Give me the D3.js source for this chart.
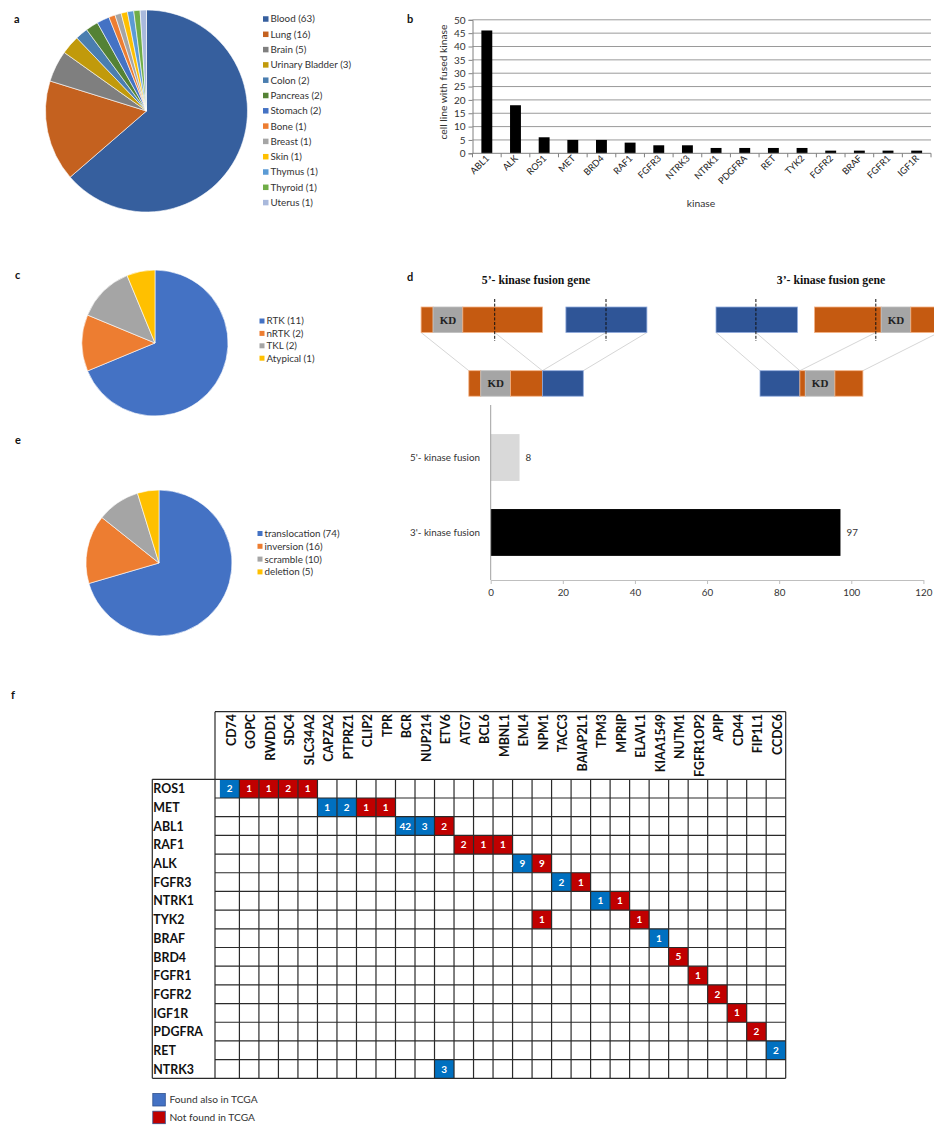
<!DOCTYPE html>
<html>
<head>
<meta charset="utf-8">
<script src="https://cdn.jsdelivr.net/npm/d3@7"></script>
<style>
  body { margin: 0; background: #fff; }
  svg { display: block; font-family: Lato, "Open Sans", sans-serif; }
</style>
</head>
<body>
<svg id="fig" width="934" height="1125"></svg>
<script>
// ---------------- data ----------------
// a: cell lines by tissue of origin
const tissues = ["Blood", "Lung", "Brain", "Urinary Bladder", "Colon", "Pancreas", "Stomach",
                 "Bone", "Breast", "Skin", "Thymus", "Thyroid", "Uterus"];
const tissueCounts = [63, 16, 5, 3, 2, 2, 2, 1, 1, 1, 1, 1, 1];
const tissueColors = ["#365f9e", "#c4611f", "#7f7f7f", "#c19a0b", "#4a7eb0", "#548235", "#4472c4",
                      "#ed7d31", "#a5a5a5", "#ffc000", "#5b9bd5", "#70ad47", "#a9b9dc"];

// b: cell lines carrying a fusion of each kinase
const kinases = ["ABL1", "ALK", "ROS1", "MET", "BRD4", "RAF1", "FGFR3", "NTRK3", "NTRK1", "PDGFRA",
                 "RET", "TYK2", "FGFR2", "BRAF", "FGFR1", "IGF1R"];
const kinaseCellLines = [46, 18, 6, 5, 5, 4, 3, 3, 2, 2, 2, 2, 1, 1, 1, 1];
const kinaseTicks = [0, 5, 10, 15, 20, 25, 30, 35, 40, 45, 50];

// c: kinase groups
const kinaseGroups = ["RTK", "nRTK", "TKL", "Atypical"];
const kinaseGroupCounts = [11, 2, 2, 1];
const groupColors = ["#4472c4", "#ed7d31", "#a5a5a5", "#ffc000"];

// d: 5' vs 3' kinase fusions
const fusionSides = ["5'- kinase fusion", "3'- kinase fusion"];
const fusionSideCounts = [8, 97];
const fusionTicks = [0, 20, 40, 60, 80, 100, 120];

// d: gene models for the schematic (segment lengths and breakpoints, schematic units)
const kinaseGene5 = { segs: [["k", 12], ["kd", 29.7], ["k", 79.7]], brk: 73.6 };
const partnerGene5 = { segs: [["p", 81]], brk: 40.1 };
const partnerGene3 = { segs: [["p", 81.4]], brk: 39.9 };
const kinaseGene3 = { segs: [["k", 66.7], ["kd", 29.6], ["k", 28]], brk: 61.3 };

// e: rearrangement type
const eventTypes = ["translocation", "inversion", "scramble", "deletion"];
const eventCounts = [74, 16, 10, 5];

// f: kinase x partner fusion table
const partnerGenes = ["CD74", "GOPC", "RWDD1", "SDC4", "SLC34A2", "CAPZA2", "PTPRZ1", "CLIP2", "TPR",
  "BCR", "NUP214", "ETV6", "ATG7", "BCL6", "MBNL1", "EML4", "NPM1", "TACC3", "BAIAP2L1", "TPM3",
  "MPRIP", "ELAVL1", "KIAA1549", "NUTM1", "FGFR1OP2", "APIP", "CD44", "FIP1L1", "CCDC6"];
const kinaseRows = ["ROS1", "MET", "ABL1", "RAF1", "ALK", "FGFR3", "NTRK1", "TYK2", "BRAF", "BRD4",
  "FGFR1", "FGFR2", "IGF1R", "PDGFRA", "RET", "NTRK3"];
// [kinase, partner, count, found also in TCGA]
const fusionCells = [
  ["ROS1", "CD74", 2, true], ["ROS1", "GOPC", 1, false], ["ROS1", "RWDD1", 1, false],
  ["ROS1", "SDC4", 2, false], ["ROS1", "SLC34A2", 1, false],
  ["MET", "CAPZA2", 1, true], ["MET", "PTPRZ1", 2, true], ["MET", "CLIP2", 1, false], ["MET", "TPR", 1, false],
  ["ABL1", "BCR", 42, true], ["ABL1", "NUP214", 3, true], ["ABL1", "ETV6", 2, false],
  ["RAF1", "ATG7", 2, false], ["RAF1", "BCL6", 1, false], ["RAF1", "MBNL1", 1, false],
  ["ALK", "EML4", 9, true], ["ALK", "NPM1", 9, false],
  ["FGFR3", "TACC3", 2, true], ["FGFR3", "BAIAP2L1", 1, false],
  ["NTRK1", "TPM3", 1, true], ["NTRK1", "MPRIP", 1, false],
  ["TYK2", "NPM1", 1, false], ["TYK2", "ELAVL1", 1, false],
  ["BRAF", "KIAA1549", 1, true], ["BRD4", "NUTM1", 5, false], ["FGFR1", "FGFR1OP2", 1, false],
  ["FGFR2", "APIP", 2, false], ["IGF1R", "CD44", 1, false], ["PDGFRA", "FIP1L1", 2, false],
  ["RET", "CCDC6", 2, true], ["NTRK3", "ETV6", 3, true]
];
const tcgaLegend = ["Found also in TCGA", "Not found in TCGA"];

// ---------------- drawing ----------------
const svg = d3.select("#fig");

function panelLabel(t, x, y) {
  svg.append("text").attr("x", x).attr("y", y).attr("font-size", 11).attr("font-weight", 700)
    .attr("fill", "#111").text(t);
}

function pie(values, labels, colors, cx, cy, r, legX, legY, legStep, sq) {
  const arcs = d3.pie().sort(null)(values);
  const arc = d3.arc().innerRadius(0).outerRadius(r);
  const g = svg.append("g").attr("transform", `translate(${cx},${cy})`);
  g.selectAll("path").data(arcs).join("path")
    .attr("d", arc).attr("fill", (d, i) => colors[i])
    .attr("stroke", "#fff").attr("stroke-width", 0.6);
  const lg = svg.append("g");
  labels.forEach((l, i) => {
    const y = legY + i * legStep;
    lg.append("rect").attr("x", legX).attr("y", y - sq / 2).attr("width", sq).attr("height", sq)
      .attr("fill", colors[i]);
    lg.append("text").attr("x", legX + sq + 2).attr("y", y).attr("dy", "0.35em")
      .attr("font-size", 9.8).attr("fill", "#333").text(`${l} (${values[i]})`);
  });
}

// ---- a ----
panelLabel("a", 14, 23);
pie(tissueCounts, tissues, tissueColors, 146.5, 111, 101, 263, 19, 15.3, 5.5);

// ---- b ----
panelLabel("b", 407, 23);
{
  const x = d3.scaleBand().domain(kinases).range([472.5, 931]).paddingInner(0.62).paddingOuter(0.31);
  const y = d3.scaleLinear().domain([0, 50]).range([153.3, 19.8]);
  const g = svg.append("g");
  g.selectAll("line.grid").data(kinaseTicks.filter(t => t > 0)).join("line")
    .attr("x1", 472.5).attr("x2", 931).attr("y1", d => y(d)).attr("y2", d => y(d))
    .attr("stroke", "#9a9a9a").attr("stroke-width", 1);
  g.selectAll("rect").data(kinases).join("rect")
    .attr("x", d => x(d)).attr("width", x.bandwidth())
    .attr("y", (d, i) => y(kinaseCellLines[i]))
    .attr("height", (d, i) => y(0) - y(kinaseCellLines[i]))
    .attr("fill", "#000");
  const ya = g.append("g").attr("transform", "translate(472.5,0)")
    .call(d3.axisLeft(y).tickValues(kinaseTicks).tickSize(4).tickPadding(3));
  ya.select(".domain").attr("stroke", "#808080");
  ya.selectAll(".tick line").attr("stroke", "#808080");
  ya.selectAll("text").attr("font-size", 10).attr("font-family", "Lato").attr("fill", "#333");
  // category axis with ticks between bands
  g.append("line").attr("x1", 472.5).attr("x2", 931).attr("y1", y(0)).attr("y2", y(0))
    .attr("stroke", "#808080");
  const step = x.step();
  d3.range(kinases.length + 1).forEach(i => {
    const xx = 472.5 + i * step;
    g.append("line").attr("x1", xx).attr("x2", xx).attr("y1", y(0)).attr("y2", y(0) + 4)
      .attr("stroke", "#808080");
  });
  g.selectAll("text.klab").data(kinases).join("text").attr("class", "klab")
    .attr("transform", d => `translate(${x(d) + x.bandwidth() / 2 + 3},${159}) rotate(-45)`)
    .attr("text-anchor", "end").attr("font-size", 9.2).attr("fill", "#222").text(d => d);
  svg.append("text").attr("transform", "translate(447,82) rotate(-90)").attr("text-anchor", "middle")
    .attr("font-size", 10.3).attr("fill", "#333").text("cell line with fused kinase");
  svg.append("text").attr("x", 701).attr("y", 207).attr("text-anchor", "middle")
    .attr("font-size", 10.3).attr("fill", "#333").text("kinase");
}

// ---- c ----
panelLabel("c", 15, 279);
pie(kinaseGroupCounts, kinaseGroups, groupColors, 155, 343, 73, 259.5, 321, 12.4, 5);

// ---- e ----
panelLabel("e", 15, 444);
pie(eventCounts, eventTypes, groupColors, 159, 563, 73, 257.5, 533.5, 12.8, 5);

// ---- d: schematic ----
panelLabel("d", 407, 281);
{
  const fill = { k: "#c55a11", kd: "#a5a5a5", p: "#2f5597" };
  const edge = { k: "#f4b183", kd: "#bfbfbf", p: "#8faadc" };
  const topY = 307, botY = 370.7, h = 25.5;
  const u = d3.scaleLinear().domain([0, 1]).range([0, 1]); // schematic units -> px
  const len = gene => d3.sum(gene.segs, s => s[1]);
  // cut a gene model to the [a,b] interval
  function cut(gene, a, b) {
    const out = []; let pos = 0;
    gene.segs.forEach(([t, l]) => {
      const s = Math.max(pos, a), e = Math.min(pos + l, b);
      if (e > s) out.push([t, e - s]);
      pos += l;
    });
    return out;
  }
  const g = svg.append("g");
  const links = g.append("g"), bars = g.append("g"), marks = g.append("g");
  function drawSegs(segs, x0, y) {
    let x = x0;
    segs.forEach(([t, l]) => {
      bars.append("rect").attr("x", x).attr("y", y).attr("width", u(l)).attr("height", h)
        .attr("fill", fill[t]).attr("stroke", edge[t]).attr("stroke-width", 0.8);
      if (t === "kd") {
        bars.append("text").attr("x", x + u(l) / 2).attr("y", y + h / 2).attr("dy", "0.35em")
          .attr("text-anchor", "middle").attr("font-family", "Liberation Serif, serif")
          .attr("font-weight", 700).attr("font-size", 11).attr("fill", "#222").text("KD");
      }
      x += u(l);
    });
    return x;
  }
  function breakLine(x) {
    marks.append("line").attr("x1", x).attr("x2", x).attr("y1", 299).attr("y2", 341)
      .attr("stroke", "#111").attr("stroke-width", 1).attr("stroke-dasharray", "3,1.6");
  }
  function link(x1, x2) {
    links.append("line").attr("x1", x1).attr("y1", topY + h).attr("x2", x2).attr("y2", botY)
      .attr("stroke", "#d6d6d6").attr("stroke-width", 1);
  }
  function fusion(head, headX, tail, tailX, fusedX) {
    drawSegs(head.segs, headX, topY);
    drawSegs(tail.segs, tailX, topY);
    breakLine(headX + u(head.brk));
    breakLine(tailX + u(tail.brk));
    const j = drawSegs(cut(head, 0, head.brk), fusedX, botY);
    const end = drawSegs(cut(tail, tail.brk, len(tail)), j, botY);
    link(headX, fusedX);
    link(headX + u(head.brk), j);
    link(tailX + u(tail.brk), j);
    link(tailX + u(len(tail)), end);
  }
  fusion(kinaseGene5, 421.1, partnerGene5, 565.9, 468.8);
  fusion(partnerGene3, 716, kinaseGene3, 814.5, 760);

  [["5\u2019- kinase fusion gene", 536], ["3\u2019- kinase fusion gene", 831]].forEach(([t, cx]) => {
    svg.append("text").attr("x", cx).attr("y", 284).attr("text-anchor", "middle")
      .attr("font-family", "Liberation Serif, serif").attr("font-weight", 700)
      .attr("font-size", 11.8).attr("fill", "#111").text(t);
  });
}

// ---- d: bar chart ----
{
  const x = d3.scaleLinear().domain([0, 120]).range([490.7, 923.4]);
  const y = d3.scaleBand().domain(fusionSides).range([406, 584]).padding(0.375);
  const g = svg.append("g");
  g.selectAll("rect").data(fusionSides).join("rect")
    .attr("x", x(0)).attr("y", d => y(d)).attr("height", y.bandwidth())
    .attr("width", (d, i) => x(fusionSideCounts[i]) - x(0))
    .attr("fill", (d, i) => i === 0 ? "#d9d9d9" : "#000");
  g.selectAll("text.val").data(fusionSides).join("text").attr("class", "val")
    .attr("x", (d, i) => x(fusionSideCounts[i]) + 6).attr("y", d => y(d) + y.bandwidth() / 2)
    .attr("dy", "0.35em").attr("font-size", 9.8).attr("fill", "#333")
    .text((d, i) => fusionSideCounts[i]);
  g.selectAll("text.cat").data(fusionSides).join("text").attr("class", "cat")
    .attr("x", 480).attr("y", d => y(d) + y.bandwidth() / 2).attr("dy", "0.35em")
    .attr("text-anchor", "end").attr("font-size", 9.8).attr("fill", "#333").text(d => d);
  g.append("line").attr("x1", x(0)).attr("x2", x(0)).attr("y1", 405).attr("y2", 580)
    .attr("stroke", "#a0a0a0");
  const xa = g.append("g").attr("transform", "translate(0,580)")
    .call(d3.axisBottom(x).tickValues(fusionTicks).tickSize(4).tickPadding(5).tickSizeOuter(0));
  xa.select(".domain").attr("stroke", "#bfbfbf");
  xa.selectAll(".tick line").attr("stroke", "#bfbfbf");
  xa.selectAll("text").attr("font-size", 9.8).attr("font-family", "Lato").attr("fill", "#333");
}

// ---- f: fusion table ----
panelLabel("f", 11, 699);
{
  const gridLeft = 215, gridRight = 785.7, headTop = 711.7, rowTop = 779.3, bottom = 1078.3, labelLeft = 152.3;
  const x = d3.scaleBand().domain(partnerGenes).range([219.9, gridRight]);
  const y = d3.scaleBand().domain(kinaseRows).range([rowTop, bottom]);
  const x0 = c => Math.max(gridLeft, x(c));
  const x1 = c => x(c) + x.bandwidth();
  const g = svg.append("g");
  g.selectAll("rect.cell").data(fusionCells).join("rect").attr("class", "cell")
    .attr("x", d => x0(d[1])).attr("y", d => y(d[0]))
    .attr("width", d => x1(d[1]) - x0(d[1])).attr("height", y.bandwidth())
    .attr("fill", d => d[3] ? "#0070c0" : "#c00000");
  g.selectAll("text.n").data(fusionCells).join("text").attr("class", "n")
    .attr("x", d => (x0(d[1]) + x1(d[1])) / 2).attr("y", d => y(d[0]) + y.bandwidth() / 2)
    .attr("dy", "0.36em").attr("text-anchor", "middle").attr("font-size", 10)
    .attr("font-weight", 700).attr("fill", "#fff").text(d => d[2]);
  const line = (a, b, c, d, w) => g.append("line").attr("x1", a).attr("y1", b).attr("x2", c).attr("y2", d)
    .attr("stroke", "#2a2a2a").attr("stroke-width", w || 1.2);
  // inner grid
  partnerGenes.slice(1).forEach(c => line(x(c), rowTop, x(c), bottom));
  kinaseRows.slice(1).forEach(r => line(gridLeft, y(r), gridRight, y(r)));
  // frame
  line(gridLeft, headTop, gridRight, headTop);
  line(gridRight, headTop, gridRight, bottom);
  line(gridLeft, headTop, gridLeft, bottom);
  line(labelLeft, rowTop, gridRight, rowTop);
  line(labelLeft, rowTop, labelLeft, bottom);
  line(labelLeft, bottom, gridRight, bottom);
  // column headers
  g.selectAll("text.col").data(partnerGenes).join("text").attr("class", "col")
    .attr("transform", d => `translate(${(x0(d) + x1(d)) / 2 + 6},${714}) rotate(-90)`)
    .attr("text-anchor", "end").attr("font-size", 12.4).attr("font-weight", 700).attr("fill", "#111")
    .text(d => d);
  // row labels
  g.selectAll("text.row").data(kinaseRows).join("text").attr("class", "row")
    .attr("x", labelLeft + 1).attr("y", d => y(d) + y.bandwidth() / 2).attr("dy", "0.38em")
    .attr("font-size", 12.4).attr("font-weight", 700).attr("fill", "#111").text(d => d);
  // legend
  const legFill = ["#4472c4", "#c00000"];
  tcgaLegend.forEach((t, i) => {
    const yy = 1093.5 + i * 17.7;
    g.append("rect").attr("x", labelLeft + 0.5).attr("y", yy).attr("width", 12.5).attr("height", 12.5)
      .attr("fill", legFill[i]).attr("stroke", "#2f528f").attr("stroke-width", 0.8);
    g.append("text").attr("x", 169.5).attr("y", yy + 6.3).attr("dy", "0.35em")
      .attr("font-size", 10.2).attr("fill", "#333").text(t);
  });
}
</script>
</body>
</html>
